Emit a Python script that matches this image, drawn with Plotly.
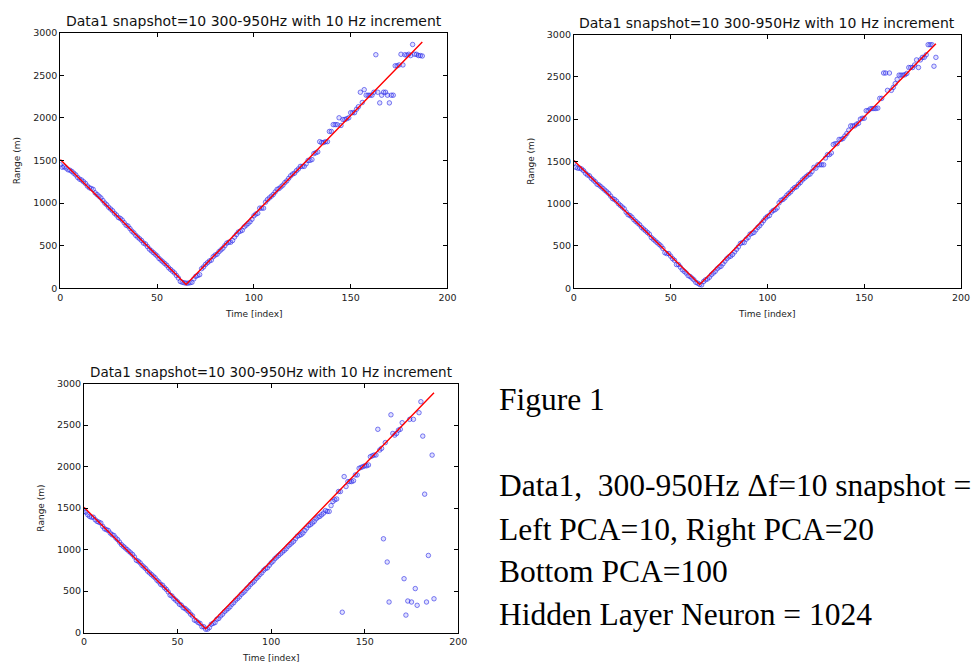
import plotly.graph_objects as go

W, H = 975, 669

# ---------------- data ----------------
time_index = list(range(188))

# true range (red line) vertices
truth_t = [0, 65, 187]
truth_r = [1510, 45, 2890]

# predicted range, top-left (PCA=10)
pred_left = [
    1450, 1420, 1425, 1410, 1390, 1385, 1370, 1350, 1330, 1300,
    1280, 1270, 1250, 1230, 1200, 1180, 1170, 1160, 1120, 1100,
    1080, 1060, 1030, 1000, 980, 950, 930, 910, 880, 860,
    830, 820, 800, 770, 740, 730, 700, 670, 650, 620,
    600, 580, 560, 530, 520, 490, 460, 440, 420, 400,
    380, 350, 330, 310, 290, 270, 240, 220, 200, 180,
    150, 120, 80, 70, 65, 60, 60, 65, 70, 110,
    140, 150, 160, 230, 250, 280, 300, 320, 330, 370,
    390, 400, 430, 450, 470, 500, 530, 540, 540, 560,
    600, 630, 660, 670, 680, 720, 740, 760, 780, 810,
    850, 870, 880, 940, 940, 940, 1010, 1040, 1060, 1080,
    1100, 1130, 1160, 1170, 1190, 1210, 1240, 1260, 1290, 1320,
    1340, 1350, 1380, 1400, 1430, 1430, 1430, 1460, 1500, 1500,
    1510, 1580, 1590, 1600, 1720, 1710, 1710, 1720, 1720, 1840,
    1840, 1920, 1920, 1920, 2000, 1910, 1980, 1980, 1990, 2000,
    2060, 2060, 2060, 2100, 2130, 2300, 2180, 2330, 2265, 2265,
    2265, 2265, 2300, 2740, 2300, 2175, 2265, 2300, 2300, 2265,
    2175, 2265, 2265, 2610, 2610, 2620, 2745, 2620, 2740, 2735,
    2745, 2730, 2860, 2745, 2745, 2730, 2730, 2725,
]

# predicted range, top-right (PCA=20)
pred_right = [
    1480, 1430, 1420, 1420, 1410, 1390, 1360, 1340, 1330, 1300,
    1280, 1260, 1230, 1220, 1200, 1180, 1160, 1140, 1120, 1090,
    1060, 1050, 1030, 1000, 980, 960, 940, 900, 870, 860,
    840, 810, 790, 770, 750, 720, 700, 680, 660, 640,
    600, 580, 560, 540, 520, 500, 470, 420, 410, 410,
    380, 350, 330, 280, 280, 250, 220, 200, 180, 150,
    140, 120, 100, 70, 60, 45, 40, 80, 100, 110,
    130, 160, 180, 200, 230, 250, 260, 290, 320, 350,
    370, 380, 400, 430, 460, 490, 530, 540, 540, 580,
    600, 640, 650, 660, 690, 720, 740, 770, 800, 830,
    850, 860, 900, 920, 930, 950, 1010, 1040, 1050, 1070,
    1100, 1120, 1140, 1170, 1190, 1200, 1230, 1250, 1280, 1300,
    1320, 1340, 1350, 1380, 1430, 1420, 1460, 1460, 1460, 1460,
    1540, 1580, 1580, 1600, 1700, 1710, 1710, 1760, 1760, 1770,
    1800, 1830, 1870, 1920, 1920, 1920, 1940, 1950, 2000, 2010,
    2010, 2100, 2100, 2120, 2125, 2125, 2125, 2130, 2245, 2245,
    2545, 2545, 2340, 2545, 2340, 2375, 2420, 2470, 2520, 2520,
    2520, 2525, 2540, 2610, 2610, 2610, 2640, 2700, 2610, 2700,
    2730, 2730, 2760, 2880, 2880, 2880, 2625, 2730,
]

# predicted range, bottom-left (PCA=100)
pred_bottom = [
    1460, 1450, 1420, 1400, 1390, 1390, 1360, 1340, 1330, 1320,
    1280, 1250, 1240, 1230, 1200, 1180, 1170, 1140, 1120, 1090,
    1060, 1040, 1020, 1000, 980, 960, 940, 910, 870, 860,
    840, 810, 790, 770, 740, 720, 700, 680, 660, 630,
    610, 580, 570, 540, 520, 490, 450, 440, 410, 390,
    370, 340, 330, 300, 290, 270, 250, 220, 200, 150,
    140, 120, 110, 70, 70, 40, 40, 60, 100, 110,
    120, 160, 170, 200, 220, 250, 270, 290, 310, 340,
    360, 390, 410, 430, 460, 480, 500, 530, 550, 580,
    600, 620, 650, 670, 700, 720, 750, 770, 780, 810,
    840, 860, 890, 910, 930, 950, 970, 990, 1010, 1040,
    1060, 1080, 1100, 1130, 1160, 1170, 1180, 1200, 1230, 1260,
    1290, 1300, 1320, 1340, 1370, 1390, 1400, 1420, 1440, 1470,
    1460, 1460, 1530, 1580, 1600, 1610, 1700, 1700, 245, 1880,
    1760, 1820, 1820, 1820, 1830, 1900, 1900, 1980, 1990, 2000,
    2010, 2010, 2020, 2120, 2130, 2140, 2140, 2450, 2200, 2220,
    1130, 2290, 850, 368, 2625, 2400, 2380, 2400, 2440, 2450,
    2530, 649, 210, 380, 2570, 368, 2570, 530, 328, 2650,
    2783, 2368, 1668, 368, 929, None, 2139, 407,
]

x_ticks = [0, 50, 100, 150, 200]
y_ticks = [0, 500, 1000, 1500, 2000, 2500, 3000]

title_text = "Data1 snapshot=10 300-950Hz with 10 Hz increment"
x_label = "Time [index]"
y_label = "Range (m)"

side_lines = [
    "Figure 1",
    "Data1,\u00a0 300-950Hz \u0394f=10 snapshot =",
    "Left PCA=10, Right PCA=20",
    "Bottom PCA=100",
    "Hidden Layer Neuron = 1024",
]

# ---------------- layout helpers ----------------
def px(x):
    return x / W

def py(y):
    return 1 - y / H

panels = [
    # (pred, axis id, x0, x1, ytop, ybottom, title size)
    (pred_left, "", 58, 450, 27, 287, 14),
    (pred_right, "2", 578, 970, 29, 287, 14),
    (pred_bottom, "3", 82, 461, 384, 637, 13.5),
]

fig = go.Figure()
layout = dict(
    width=W, height=H,
    margin=dict(l=0, r=0, t=0, b=0),
    paper_bgcolor="white", plot_bgcolor="white",
    showlegend=False,
    annotations=[],
)

tick_font = dict(family="DejaVu Sans", size=9.5, color="#222")
label_font = dict(family="DejaVu Sans", size=9, color="#222")

for pred, ax, x0, x1, yt, yb, tsize in panels:
    xa = "x" + ax
    ya = "y" + ax
    fig.add_trace(go.Scatter(
        x=time_index, y=pred, mode="markers", xaxis=xa, yaxis=ya,
        marker=dict(symbol="circle", size=4.5, color="rgba(0,0,255,0.12)",
                    line=dict(color="rgba(40,40,230,0.75)", width=0.8)),
        hoverinfo="skip",
    ))
    fig.add_trace(go.Scatter(
        x=truth_t, y=truth_r, mode="lines", xaxis=xa, yaxis=ya,
        line=dict(color="red", width=1.4), hoverinfo="skip",
    ))
    axis_common = dict(
        showgrid=False, zeroline=False, showline=True, linecolor="black",
        linewidth=1, mirror="allticks", ticks="inside", ticklen=4,
        tickcolor="black", tickfont=tick_font,
    )
    layout["xaxis" + ax] = dict(
        domain=[px(x0), px(x1)], range=[0, 200], tickvals=x_ticks,
        anchor=ya, **axis_common,
    )
    layout["yaxis" + ax] = dict(
        domain=[py(yb), py(yt)], range=[0, 3000], tickvals=y_ticks,
        anchor=xa, **axis_common,
    )
    cx = (x0 + x1) / 2
    layout["annotations"].append(dict(
        text=title_text, x=px(cx), y=py(yt - 12), xref="paper", yref="paper",
        xanchor="center", yanchor="middle", showarrow=False,
        font=dict(family="DejaVu Sans", size=tsize, color="#111"),
    ))
    layout["annotations"].append(dict(
        text=x_label, x=px(cx), y=py(yb + 26), xref="paper", yref="paper",
        xanchor="center", yanchor="middle", showarrow=False, font=label_font,
    ))
    layout["annotations"].append(dict(
        text=y_label, x=px(x0 - 43), y=py((yt + yb) / 2), xref="paper", yref="paper",
        xanchor="center", yanchor="middle", showarrow=False, font=label_font,
        textangle=-90,
    ))

side_y = [400, 488, 532, 575, 619]
for txt, yy in zip(side_lines, side_y):
    layout["annotations"].append(dict(
        text=txt, x=px(500), y=py(yy), xref="paper", yref="paper",
        xanchor="left", yanchor="middle", showarrow=False,
        font=dict(family="Liberation Serif", size=31.5, color="black"),
    ))

fig.update_layout(**layout)
fig.write_html("out.html")
